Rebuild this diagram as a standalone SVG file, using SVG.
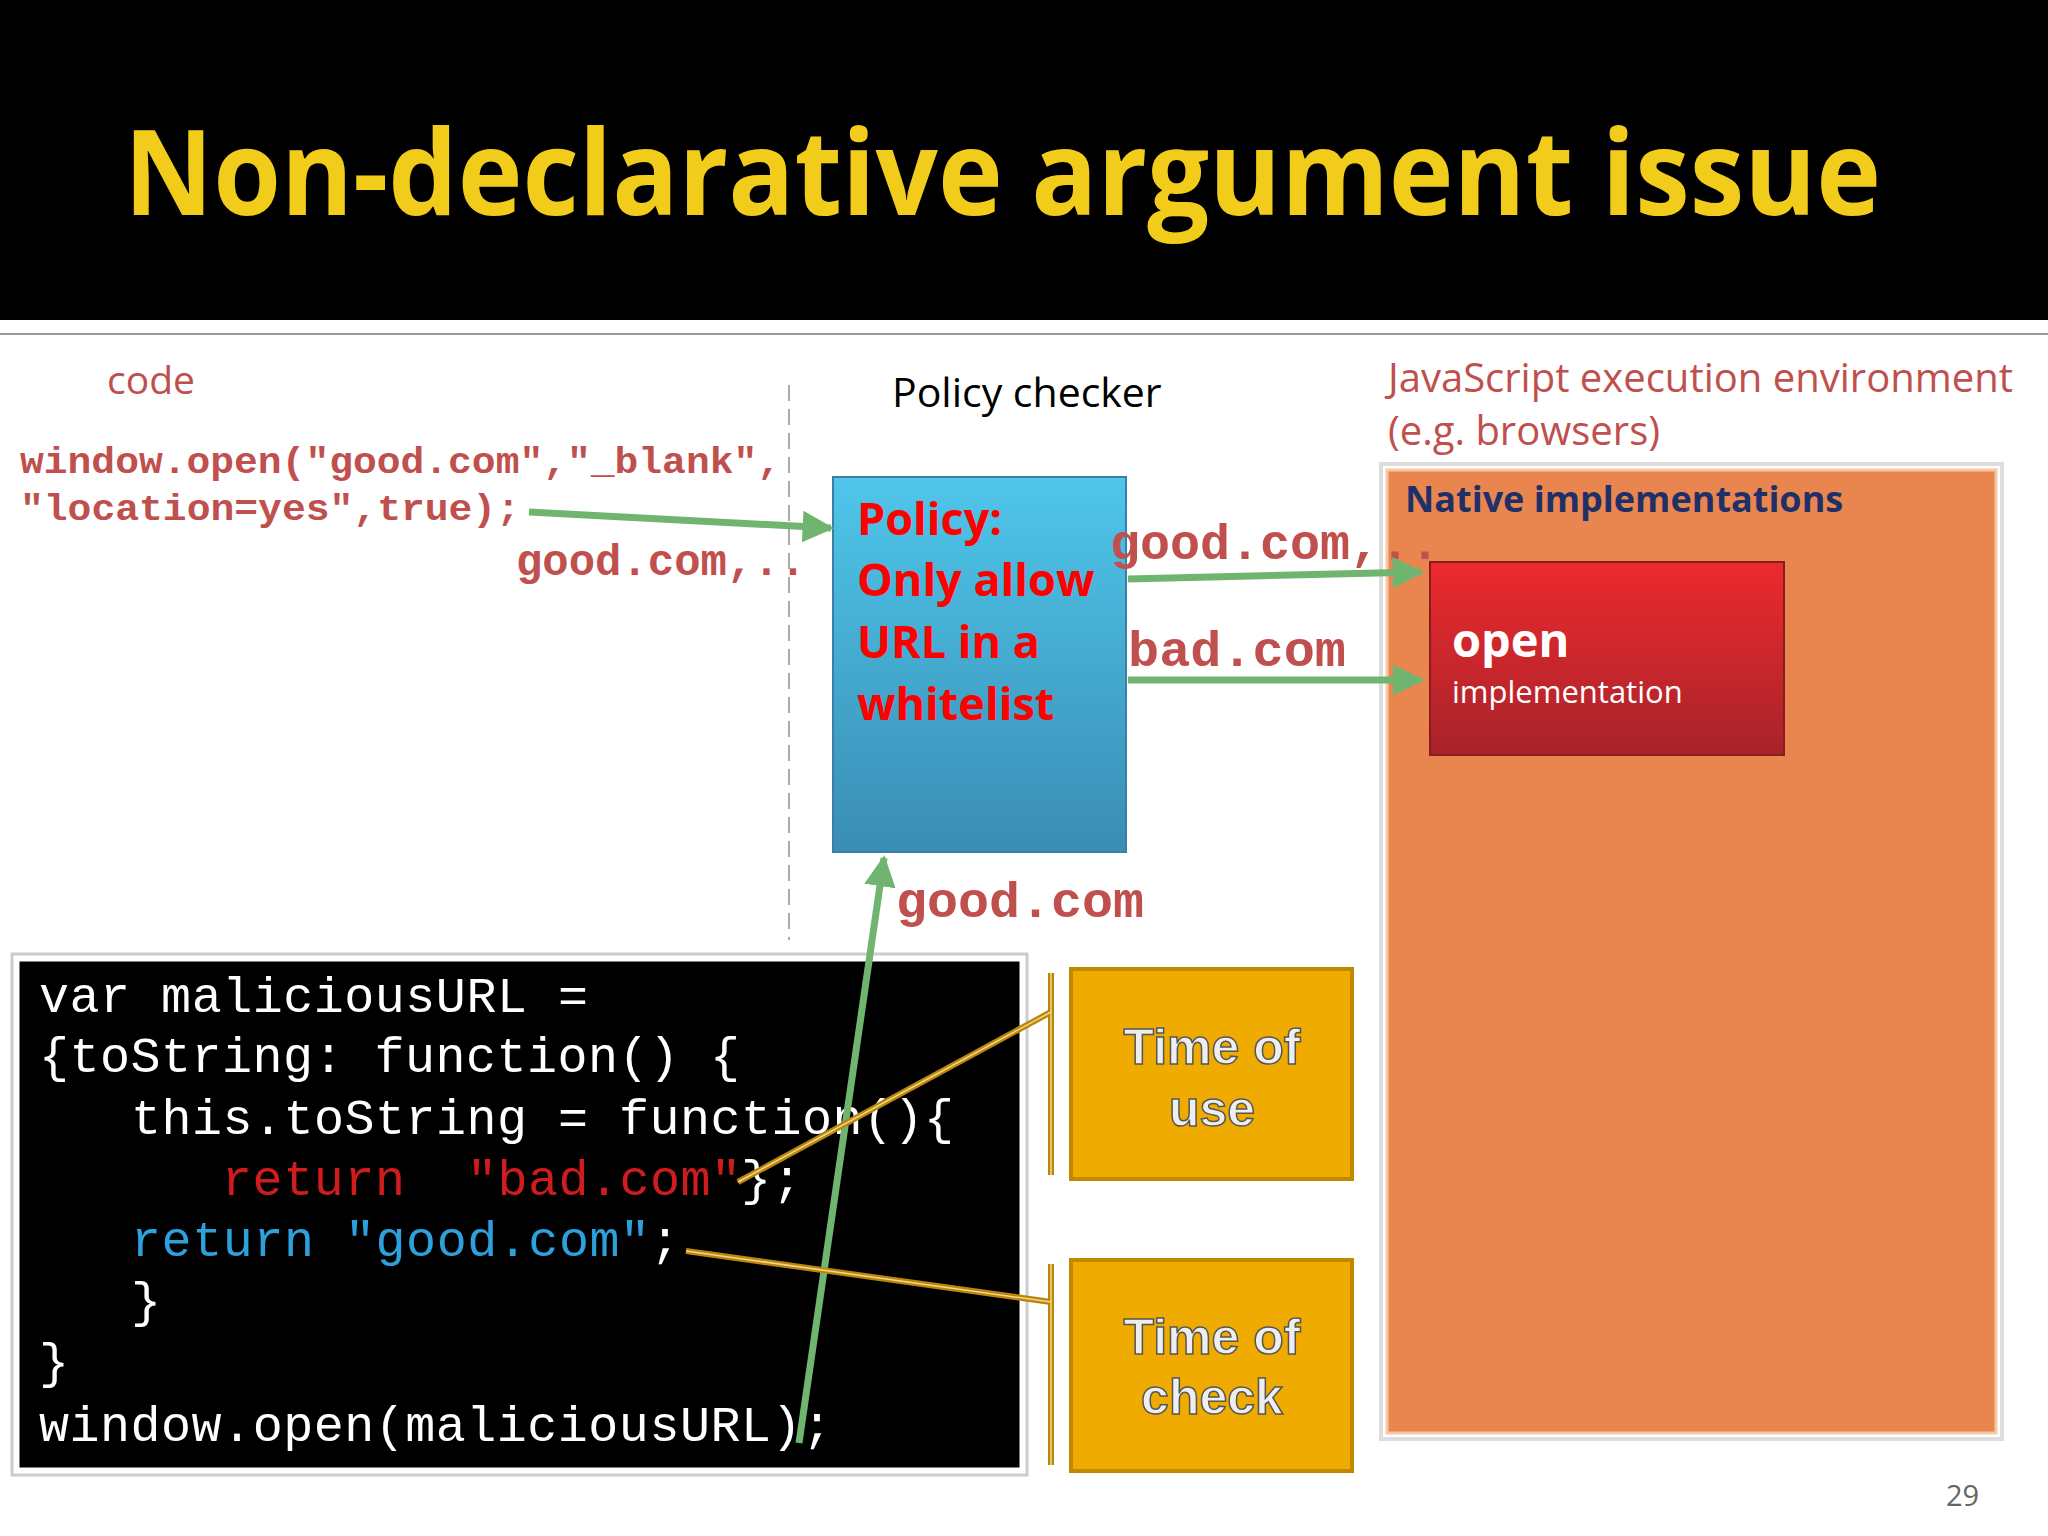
<svg xmlns="http://www.w3.org/2000/svg" width="2048" height="1536" viewBox="0 0 2048 1536">
<style>
.red{fill:#c0504d}
.mono{font-family:"Liberation Mono","Courier New",monospace}
.sans{font-family:"Open Sans","Noto Sans",sans-serif}
.code{font-family:"Liberation Mono",monospace;font-size:50px;fill:#fff;white-space:pre}
.ga{stroke:#6fb56f;stroke-width:7;fill:none}
.gl{stroke:#b8860b;stroke-width:6;fill:none}
.tt{font-family:"Liberation Sans",Arial,sans-serif;font-size:50px;font-weight:bold;fill:#eee;stroke:#555;stroke-width:1.5;text-anchor:middle}
</style>
<defs>
<marker id="ah" viewBox="0 0 10 10" refX="9" refY="5" markerWidth="4.5" markerHeight="4.5" orient="auto" markerUnits="strokeWidth"><path d="M0,0L10,5L0,10z" fill="#6fb56f"/></marker>
<linearGradient id="blue" x1="0" y1="0" x2="0" y2="1"><stop offset="0" stop-color="#4fc6ea"/><stop offset="1" stop-color="#3a8db5"/></linearGradient>
<linearGradient id="redg" x1="0" y1="0" x2="0" y2="1"><stop offset="0" stop-color="#ec2a2e"/><stop offset="1" stop-color="#a8232a"/></linearGradient>
</defs>
<rect width="2048" height="1536" fill="#fff"/>
<rect width="2048" height="320" fill="#000"/>
<line x1="0" y1="334" x2="2048" y2="334" stroke="#999" stroke-width="2"/>
<text x="124" y="215" font-family="'Open Sans',sans-serif" font-weight="bold" font-size="118" fill="#f2cc1a" textLength="1757" lengthAdjust="spacingAndGlyphs">Non-declarative argument issue</text>

<text x="107" y="394" class="sans red" font-size="39">code</text>
<text x="20" y="473" class="mono red" font-size="36" font-weight="bold" textLength="761" lengthAdjust="spacingAndGlyphs">window.open("good.com","_blank",</text>
<text x="20" y="520" class="mono red" font-size="36" font-weight="bold" textLength="500" lengthAdjust="spacingAndGlyphs">"location=yes",true);</text>
<text x="516" y="575" class="mono red" font-size="44" font-weight="bold" textLength="290" lengthAdjust="spacingAndGlyphs">good.com,..</text>
<line x1="789" y1="385" x2="789" y2="940" stroke="#aaa" stroke-width="2" stroke-dasharray="16,8"/>
<text x="892" y="407" class="sans" font-size="41" fill="#000">Policy checker</text>

<text x="1388" y="392" class="sans red" font-size="40">JavaScript execution environment</text>
<text x="1388" y="445" class="sans red" font-size="40">(e.g. browsers)</text>

<g id="env">
<rect x="1381" y="464" width="621" height="975" fill="none" stroke="#ddd" stroke-width="4"/>
<rect x="1387" y="470" width="609" height="963" fill="#e9864f" stroke="#f5c8a8" stroke-width="3"/>
<text x="1405" y="512" class="sans" font-size="36" font-weight="bold" fill="#1f3068">Native implementations</text>
</g>

<g id="policy">
<rect x="833" y="477" width="293" height="375" fill="url(#blue)" stroke="#3a7fa5" stroke-width="2"/>
<g class="sans" font-size="45" font-weight="bold" fill="#f00">
<text x="857" y="535">Policy:</text><text x="857" y="596">Only allow</text><text x="857" y="658">URL in a</text><text x="857" y="720">whitelist</text></g>
</g>

<text x="1110" y="559" class="mono red" font-size="50" font-weight="bold" textLength="330" lengthAdjust="spacingAndGlyphs">good.com,..</text>
<text x="1128" y="666" class="mono red" font-size="50" font-weight="bold" textLength="218" lengthAdjust="spacingAndGlyphs">bad.com</text>
<text x="896" y="917" class="mono red" font-size="50" font-weight="bold" textLength="248" lengthAdjust="spacingAndGlyphs">good.com</text>

<g id="open">
<rect x="1430" y="562" width="354" height="193" fill="url(#redg)" stroke="#8a1c20" stroke-width="2"/>
<text x="1452" y="657" class="sans" font-size="47" font-weight="bold" fill="#fff">open</text>
<text x="1452" y="703" class="sans" font-size="31" fill="#fff">implementation</text>
</g>

<g id="code">
<rect x="12" y="954" width="1015" height="521" fill="#fff" stroke="#ccc" stroke-width="3"/>
<rect x="18" y="960" width="1003" height="509" fill="#000" stroke="#fff" stroke-width="3"/>
<g class="code">
<text x="39" y="1012" textLength="549">var maliciousURL =</text>
<text x="39" y="1072" textLength="701">{toString: function() {</text>
<text x="131" y="1134" textLength="823">this.toString = function(){</text>
<text x="222" y="1195"><tspan fill="#d01c1c" textLength="183">return</tspan><tspan x="467" fill="#d01c1c" textLength="274">"bad.com"</tspan><tspan x="741" textLength="61">};</tspan></text>
<text x="131" y="1256"><tspan fill="#2ea0dc" textLength="183">return</tspan><tspan x="345" fill="#2ea0dc" textLength="305">"good.com"</tspan><tspan x="650">;</tspan></text>
<text x="131" y="1317">}</text>
<text x="39" y="1378">}</text>
<text x="39" y="1441" textLength="793">window.open(maliciousURL);</text>
</g>
</g>

<g id="use">
<rect x="1071" y="969" width="281" height="210" fill="#f0ab00" stroke="#c08a00" stroke-width="4"/>
<text x="1212" y="1064" class="tt">Time of</text><text x="1212" y="1126" class="tt">use</text>
</g>
<g id="check">
<rect x="1071" y="1260" width="281" height="211" fill="#f0ab00" stroke="#c08a00" stroke-width="4"/>
<text x="1212" y="1354" class="tt">Time of</text><text x="1212" y="1414" class="tt">check</text>
</g>

<g id="connectors">
<line x1="529" y1="512" x2="831" y2="528" class="ga" marker-end="url(#ah)"/>
<line x1="1128" y1="579" x2="1421" y2="572" class="ga" marker-end="url(#ah)"/>
<line x1="1128" y1="680" x2="1421" y2="680" class="ga" marker-end="url(#ah)"/>
<line x1="799" y1="1443" x2="884" y2="858" class="ga" marker-end="url(#ah)"/>
<g class="gl">
<line x1="1051" y1="973" x2="1051" y2="1175"/><line x1="1051" y1="1264" x2="1051" y2="1465"/>
<line x1="1051" y1="1012" x2="738" y2="1182"/><line x1="1051" y1="1302" x2="686" y2="1251"/>
</g>
<g stroke="#f5d78a" stroke-width="1.5">
<line x1="1051" y1="973" x2="1051" y2="1175"/><line x1="1051" y1="1264" x2="1051" y2="1465"/>
<line x1="1051" y1="1012" x2="738" y2="1182"/><line x1="1051" y1="1302" x2="686" y2="1251"/>
</g>
</g>
<text x="1946" y="1506" class="sans" font-size="29" fill="#666">29</text>
</svg>
